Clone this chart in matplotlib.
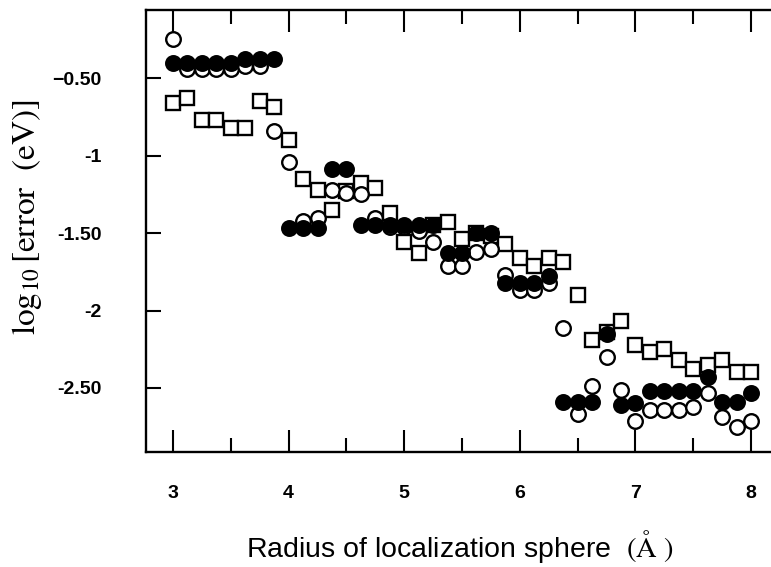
import matplotlib
matplotlib.use("Agg")
import matplotlib.pyplot as plt
from matplotlib.ticker import MultipleLocator

# Radius of localization sphere (Angstrom), one value per computed point
radius = [3.0, 3.125, 3.25, 3.375, 3.5, 3.625, 3.75, 3.875,
          4.0, 4.125, 4.25, 4.375, 4.5, 4.625, 4.75, 4.875,
          5.0, 5.125, 5.25, 5.375, 5.5, 5.625, 5.75, 5.875,
          6.0, 6.125, 6.25, 6.375, 6.5, 6.625, 6.75, 6.875,
          7.0, 7.125, 7.25, 7.375, 7.5, 7.625, 7.75, 7.875, 8.0]

# log10 of the error (eV)
filled_circles = [-0.40, -0.40, -0.40, -0.40, -0.40, -0.38, -0.38, -0.38,
                  -1.47, -1.47, -1.47, -1.09, -1.09, -1.45, -1.45, -1.45,
                  -1.45, -1.45, -1.45, -1.63, -1.63, -1.50, -1.50, -1.82,
                  -1.82, -1.82, -1.78, -2.59, -2.59, -2.59, -2.15, -2.61,
                  -2.60, -2.52, -2.52, -2.52, -2.52, -2.43, -2.59, -2.59, -2.53]

open_circles = [-0.25, -0.44, -0.44, -0.44, -0.44, -0.42, -0.42, -0.84,
                -1.04, -1.42, -1.40, -1.22, -1.24, -1.25, -1.40, -1.46,
                -1.46, -1.49, -1.56, -1.71, -1.71, -1.62, -1.60, -1.77,
                -1.87, -1.87, -1.82, -2.11, -2.67, -2.49, -2.30, -2.51,
                -2.71, -2.64, -2.64, -2.64, -2.62, -2.53, -2.69, -2.75, -2.71]

open_squares = [-0.66, -0.63, -0.77, -0.77, -0.82, -0.82, -0.65, -0.69,
                -0.90, -1.15, -1.22, -1.35, -1.23, -1.18, -1.21, -1.37,
                -1.56, -1.63, -1.45, -1.43, -1.54, -1.50, -1.52, -1.57,
                -1.66, -1.71, -1.66, -1.69, -1.90, -2.19, -2.14, -2.07,
                -2.22, -2.27, -2.25, -2.32, -2.38, -2.35, -2.32, -2.40, -2.40]

x_ticks = [3, 4, 5, 6, 7, 8]
x_tick_labels = ["3", "4", "5", "6", "7", "8"]
y_ticks = [-0.5, -1.0, -1.5, -2.0, -2.5]
y_tick_labels = ["\u22120.50", "-1", "-1.50", "-2", "-2.50"]

plt.rcParams["mathtext.fontset"] = "stix"

fig = plt.figure(figsize=(7.71, 5.67), dpi=100)
ax = fig.add_axes([146 / 771, 1 - 452 / 567, 625 / 771, 442 / 567])

ax.plot(radius, open_squares, linestyle="none", marker="s", markersize=10,
        markerfacecolor="white", markeredgecolor="black", markeredgewidth=1.7, zorder=2)
ax.plot(radius, open_circles, linestyle="none", marker="o", markersize=10.5,
        markerfacecolor="white", markeredgecolor="black", markeredgewidth=1.7, zorder=3)
ax.plot(radius, filled_circles, linestyle="none", marker="o", markersize=10.5,
        markerfacecolor="black", markeredgecolor="black", markeredgewidth=1.7, zorder=4)

ax.set_xlim(2.766, 8.173)
ax.set_ylim(-2.913, -0.061)

ax.set_xticks(x_ticks)
ax.set_xticklabels(x_tick_labels, fontweight="bold", family="Liberation Sans")
ax.xaxis.set_minor_locator(MultipleLocator(0.5))
ax.set_yticks(y_ticks)
ax.set_yticklabels(y_tick_labels, fontweight="bold", family="Liberation Sans")

ax.tick_params(axis="x", which="major", direction="in", length=16, width=1.5,
               top=True, labelsize=14, pad=24)
ax.tick_params(axis="x", which="minor", direction="in", length=10, width=1.5, top=True)
ax.tick_params(axis="y", which="major", direction="in", length=11, width=1.5,
               right=False, labelsize=14, pad=32)

for side in ["left", "bottom", "top"]:
    ax.spines[side].set_linewidth(1.7)
ax.spines["right"].set_visible(False)

ax.set_xlabel("Radius of localization sphere  $(\\mathrm{\\AA}\\ )$",
              fontsize=20.5, family="Liberation Sans")
ax.xaxis.set_label_coords(0.502, -0.172)
ax.set_ylabel(r"$\mathrm{log_{10}\,[error\ \ (eV)]}$", fontsize=24)
ax.yaxis.set_label_coords(-0.163, 0.532)

fig.savefig("out.png", dpi=100)
